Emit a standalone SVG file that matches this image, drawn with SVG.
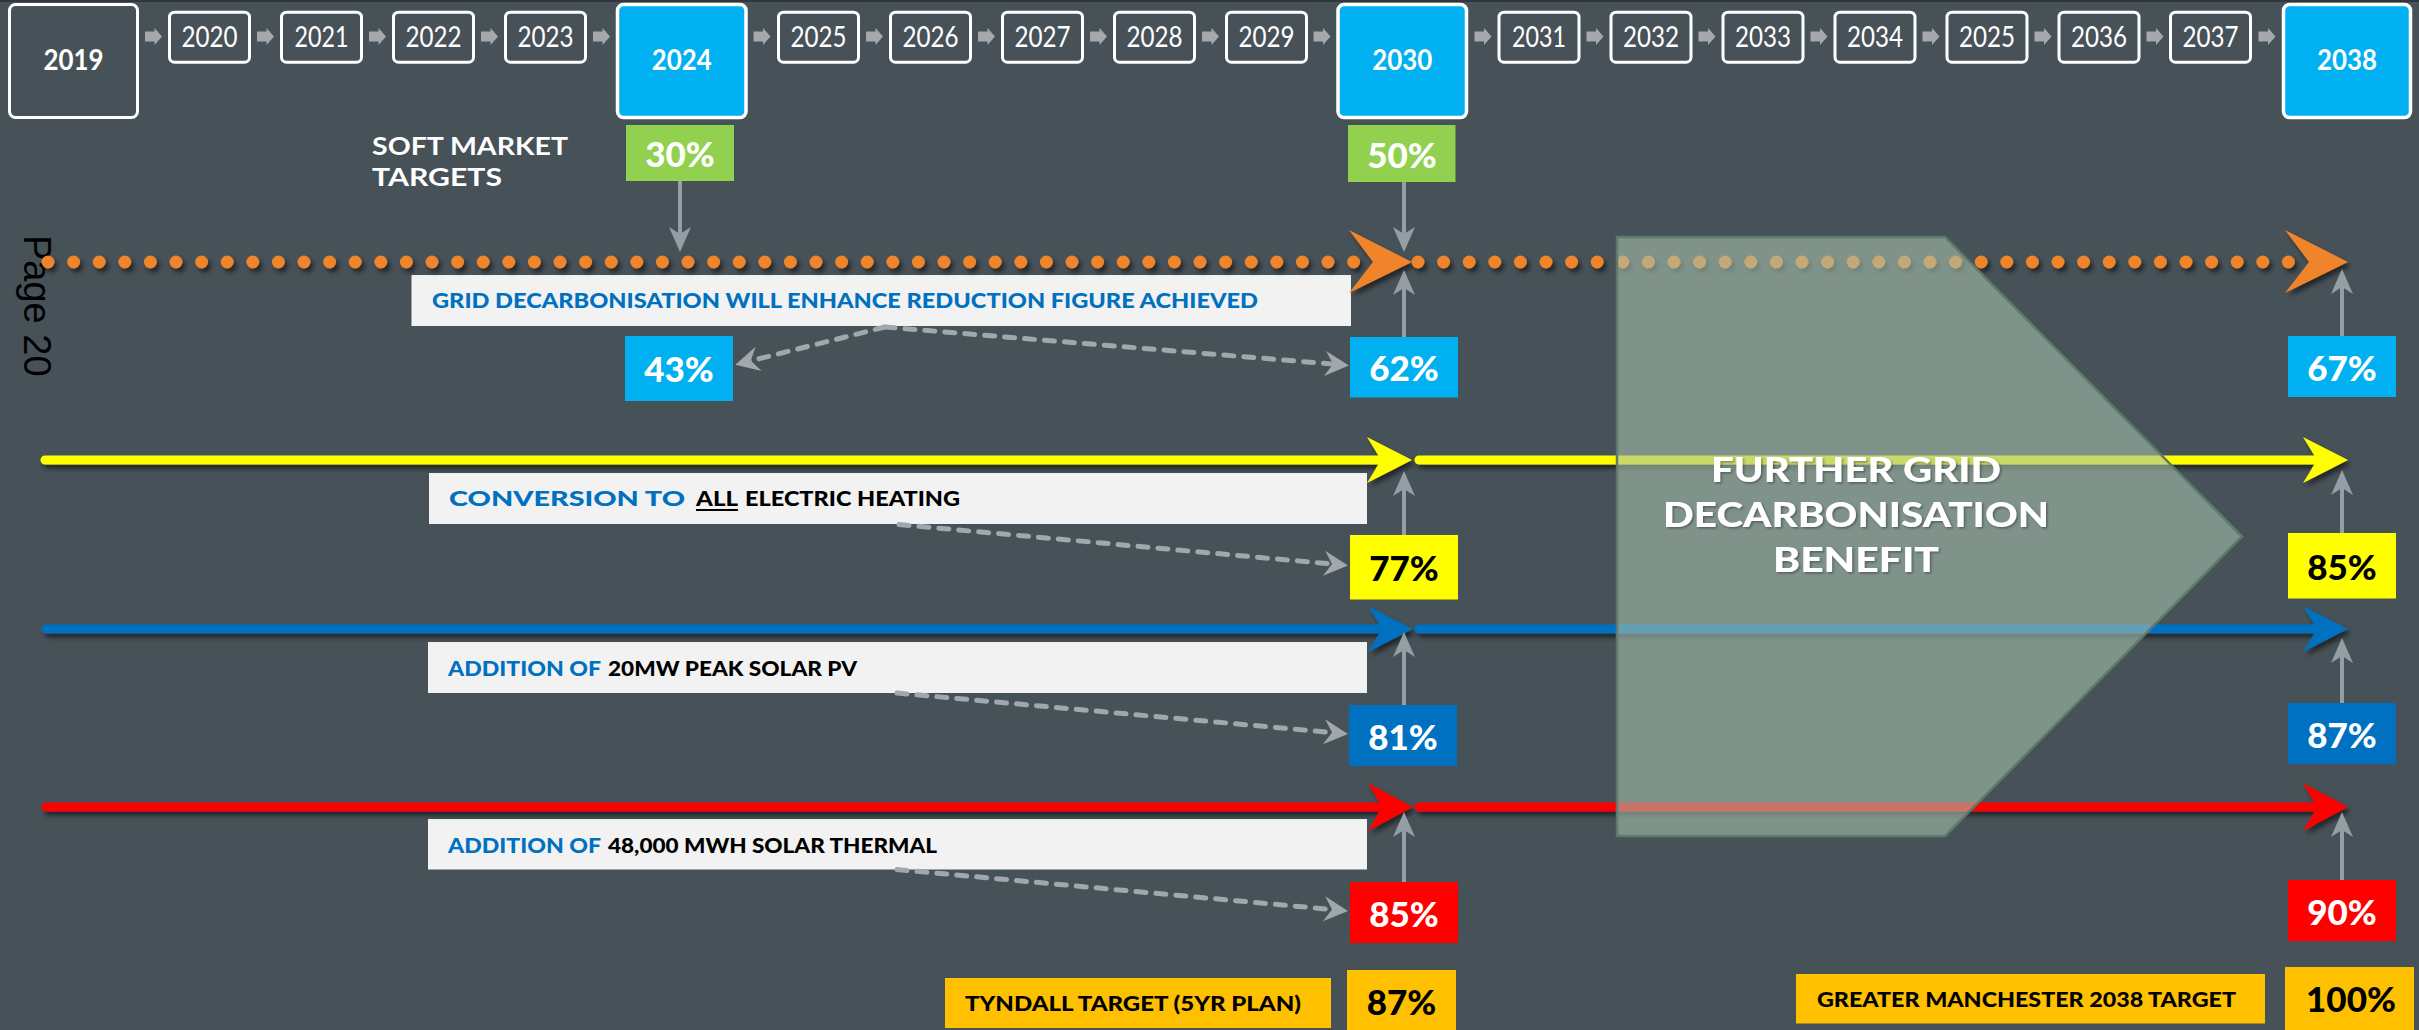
<svg xmlns="http://www.w3.org/2000/svg" xmlns:xlink="http://www.w3.org/1999/xlink" width="2419" height="1030" viewBox="0 0 2419 1030">
  <defs>
    <style>
      .t { font-family: Lato, "Open Sans", "Liberation Sans", sans-serif; }
      .yr { fill: none; stroke: #ffffff; stroke-width: 3; }
      .yrs { fill: #475258; stroke: #ffffff; stroke-width: 3; }
      .yrb { fill: #00b0f0; stroke: #ffffff; stroke-width: 3.5; }
      .ytxt { font-family: Lato, "Open Sans", "Liberation Sans", sans-serif; font-size: 28px; fill: #ffffff; text-anchor: middle; }
      .ybig { font-family: Lato, "Open Sans", "Liberation Sans", sans-serif; font-size: 28px; font-weight: 700; fill: #ffffff; text-anchor: middle; }
      .pct { font-family: Lato, "Open Sans", "Liberation Sans", sans-serif; font-size: 35px; font-weight: 900; text-anchor: middle; }
      .lbl { fill: #f2f2f2; }
      .ltxt { font-family: Lato, "Open Sans", "Liberation Sans", sans-serif; font-size: 20.5px; font-weight: 900; }
      .blue { fill: #0070c0; }
      .blk { fill: #000000; }
      .gry { stroke: #959da5; stroke-width: 4; fill: none; }
      .dsh { stroke: #a0a7ad; stroke-width: 5; fill: none; stroke-dasharray: 10 10; stroke-linecap: round; }
      .ln { fill: none; stroke-width: 9; stroke-linecap: round; }
    </style>
    <filter id="sh" x="-5%" y="-50%" width="110%" height="200%">
      <feDropShadow dx="3" dy="4" stdDeviation="2.5" flood-color="#000000" flood-opacity="0.55"/>
    </filter>
    <filter id="tsh" x="-5%" y="-20%" width="110%" height="140%">
      <feDropShadow dx="1.5" dy="1.5" stdDeviation="1" flood-color="#000000" flood-opacity="0.35"/>
    </filter>
    <path id="ar" d="M-8.5,-5 H1 V-8.5 L8.5,0 L1,8.5 V5 H-8.5 Z" fill="#a6a9ac"/>
    <marker id="head" viewBox="-13 -12 26 24" refX="0" refY="0" markerWidth="26" markerHeight="24" markerUnits="userSpaceOnUse" orient="auto">
      <path d="M12,0 L-13,-11 L-6,0 L-13,11 Z" fill="#959da5"/>
    </marker>
    <marker id="dhead" viewBox="-13 -13 26 26" refX="0" refY="0" markerWidth="26" markerHeight="26" markerUnits="userSpaceOnUse" orient="auto">
      <path d="M11,0 L-13,-12.5 L-5,0 L-13,12.5 Z" fill="#a0a7ad"/>
    </marker>
  </defs>

  <!-- backdrop -->
  <rect x="0" y="0" width="2419" height="1030" fill="#475258"/>
  <rect x="0" y="0" width="2419" height="2" fill="#30373c"/>

  <!-- page number -->
  <text x="0" y="0" transform="translate(24,235) rotate(90)" font-family="'Liberation Sans', Arial, sans-serif" font-size="38" fill="#000000">Page 20</text>

  <!-- timeline of years -->
  <g id="years">
    <g id="y2019"><rect class="yrs" x="9.5" y="4.5" width="128" height="113" rx="6"/><text class="ybig" x="73.5" y="70" textLength="60" lengthAdjust="spacingAndGlyphs">2019</text></g>
    <g id="y2020"><rect class="yr" x="169.5" y="12.2" width="80" height="50" rx="5"/><text class="ytxt" x="209.5" y="47" textLength="56" lengthAdjust="spacingAndGlyphs">2020</text></g>
    <g id="y2021"><rect class="yr" x="281.5" y="12.2" width="80" height="50" rx="5"/><text class="ytxt" x="321.5" y="47" textLength="54" lengthAdjust="spacingAndGlyphs">2021</text></g>
    <g id="y2022"><rect class="yr" x="393.5" y="12.2" width="80" height="50" rx="5"/><text class="ytxt" x="433.5" y="47" textLength="56" lengthAdjust="spacingAndGlyphs">2022</text></g>
    <g id="y2023"><rect class="yr" x="505.5" y="12.2" width="80" height="50" rx="5"/><text class="ytxt" x="545.5" y="47" textLength="56" lengthAdjust="spacingAndGlyphs">2023</text></g>
    <g id="y2024"><rect class="yrb" x="617.5" y="4.5" width="128.5" height="113" rx="6"/><text class="ybig" x="681.7" y="70" textLength="60" lengthAdjust="spacingAndGlyphs">2024</text></g>
    <g id="y2025"><rect class="yr" x="778.5" y="12.2" width="80" height="50" rx="5"/><text class="ytxt" x="818.5" y="47" textLength="56" lengthAdjust="spacingAndGlyphs">2025</text></g>
    <g id="y2026"><rect class="yr" x="890.5" y="12.2" width="80" height="50" rx="5"/><text class="ytxt" x="930.5" y="47" textLength="56" lengthAdjust="spacingAndGlyphs">2026</text></g>
    <g id="y2027"><rect class="yr" x="1002.5" y="12.2" width="80" height="50" rx="5"/><text class="ytxt" x="1042.5" y="47" textLength="56" lengthAdjust="spacingAndGlyphs">2027</text></g>
    <g id="y2028"><rect class="yr" x="1114.5" y="12.2" width="80" height="50" rx="5"/><text class="ytxt" x="1154.5" y="47" textLength="56" lengthAdjust="spacingAndGlyphs">2028</text></g>
    <g id="y2029"><rect class="yr" x="1226.5" y="12.2" width="80" height="50" rx="5"/><text class="ytxt" x="1266.5" y="47" textLength="56" lengthAdjust="spacingAndGlyphs">2029</text></g>
    <g id="y2030"><rect class="yrb" x="1338" y="4.5" width="128.5" height="113" rx="6"/><text class="ybig" x="1402.2" y="70" textLength="60" lengthAdjust="spacingAndGlyphs">2030</text></g>
    <g id="y2031"><rect class="yr" x="1499" y="12.2" width="80" height="50" rx="5"/><text class="ytxt" x="1539" y="47" textLength="54" lengthAdjust="spacingAndGlyphs">2031</text></g>
    <g id="y2032"><rect class="yr" x="1611" y="12.2" width="80" height="50" rx="5"/><text class="ytxt" x="1651" y="47" textLength="56" lengthAdjust="spacingAndGlyphs">2032</text></g>
    <g id="y2033"><rect class="yr" x="1723" y="12.2" width="80" height="50" rx="5"/><text class="ytxt" x="1763" y="47" textLength="56" lengthAdjust="spacingAndGlyphs">2033</text></g>
    <g id="y2034"><rect class="yr" x="1835" y="12.2" width="80" height="50" rx="5"/><text class="ytxt" x="1875" y="47" textLength="56" lengthAdjust="spacingAndGlyphs">2034</text></g>
    <g id="y2035"><rect class="yr" x="1947" y="12.2" width="80" height="50" rx="5"/><text class="ytxt" x="1987" y="47" textLength="56" lengthAdjust="spacingAndGlyphs">2025</text></g>
    <g id="y2036"><rect class="yr" x="2059" y="12.2" width="80" height="50" rx="5"/><text class="ytxt" x="2099" y="47" textLength="56" lengthAdjust="spacingAndGlyphs">2036</text></g>
    <g id="y2037"><rect class="yr" x="2170.5" y="12.2" width="80" height="50" rx="5"/><text class="ytxt" x="2210.5" y="47" textLength="56" lengthAdjust="spacingAndGlyphs">2037</text></g>
    <g id="y2038"><rect class="yrb" x="2283.5" y="4.5" width="127" height="113" rx="6"/><text class="ybig" x="2347" y="70" textLength="60" lengthAdjust="spacingAndGlyphs">2038</text></g>
  </g>

  <!-- soft market heading -->
  <g id="soft-market">
    <text class="t" x="372" y="155" font-size="25" font-weight="700" fill="#ffffff" textLength="196" lengthAdjust="spacingAndGlyphs">SOFT MARKET</text>
    <text class="t" x="372" y="186" font-size="25" font-weight="700" fill="#ffffff" textLength="130" lengthAdjust="spacingAndGlyphs">TARGETS</text>
  </g>

  <!-- description panels -->
  <g id="lbl-grid">
    <rect class="lbl" x="411.5" y="275" width="939.5" height="51"/>
    <text class="ltxt blue" x="432" y="307.5" font-size="18.5" textLength="826" lengthAdjust="spacingAndGlyphs">GRID DECARBONISATION WILL ENHANCE REDUCTION FIGURE ACHIEVED</text>
  </g>
  <g id="lbl-heating">
    <rect class="lbl" x="429" y="473" width="938" height="51"/>
    <text class="ltxt blue" x="449" y="506" font-size="22.5" textLength="236" lengthAdjust="spacingAndGlyphs">CONVERSION TO</text>
    <text class="ltxt blk" x="696" y="506" font-size="22.5" textLength="42" lengthAdjust="spacingAndGlyphs">ALL</text>
    <rect x="696" y="509" width="42" height="2" fill="#000000"/>
    <text class="ltxt blk" x="745" y="506" font-size="22.5" textLength="215" lengthAdjust="spacingAndGlyphs">ELECTRIC HEATING</text>
  </g>
  <g id="lbl-pv">
    <rect class="lbl" x="428" y="642" width="939" height="51"/>
    <text class="ltxt blue" x="448" y="676" textLength="153" lengthAdjust="spacingAndGlyphs">ADDITION OF</text>
    <text class="ltxt blk" x="608" y="676" textLength="249" lengthAdjust="spacingAndGlyphs">20MW PEAK SOLAR PV</text>
  </g>
  <g id="lbl-thermal">
    <rect class="lbl" x="428" y="819" width="939" height="50.5"/>
    <text class="ltxt blue" x="448" y="853" textLength="153" lengthAdjust="spacingAndGlyphs">ADDITION OF</text>
    <text class="ltxt blk" x="608" y="853" textLength="329" lengthAdjust="spacingAndGlyphs">48,000 MWH SOLAR THERMAL</text>
  </g>

  <!-- pathway lines -->
  <g id="connectors">
    <g filter="url(#sh)">
      <path d="M48,262 H1360" fill="none" stroke="#ef8429" stroke-width="13" stroke-linecap="round" stroke-dasharray="0 25.6"/>
      <path d="M1418,262 H2292" fill="none" stroke="#ef8429" stroke-width="13" stroke-linecap="round" stroke-dasharray="0 25.6"/>
      <path class="ln" d="M45,460 H1385 M1419,460 H2320" stroke="#ffff00"/>
      <path class="ln" d="M46,629 H1385 M1419,629 H2320" stroke="#0070c0"/>
      <path class="ln" d="M46,807 H1385 M1419,807 H2320" stroke="#ff0000"/>
      <polygon points="1349,230 1412,262 1349,293 1373,262" fill="#ef8429"/>
      <polygon points="2285,230 2348,262 2285,293 2309,262" fill="#ef8429"/>
      <polygon points="1367,437 1412,460 1367,483 1381,460" fill="#ffff00"/>
      <polygon points="2303,437 2348,460 2303,483 2317,460" fill="#ffff00"/>
      <polygon points="1368,606 1413,629 1368,652 1382,629" fill="#0070c0"/>
      <polygon points="2303,606 2348,629 2303,652 2317,629" fill="#0070c0"/>
      <polygon points="1368,783 1413,807 1368,831 1382,807" fill="#ff0000"/>
      <polygon points="2303,783 2348,807 2303,831 2317,807" fill="#ff0000"/>
    </g>

    <!-- dashed pointers from the panels -->
    <path class="dsh" d="M885,327 L746,362" marker-end="url(#dhead)"/>
    <path class="dsh" d="M885,327 L1338,364.5" marker-end="url(#dhead)"/>
    <path class="dsh" d="M899,524.5 L1337,564.5" marker-end="url(#dhead)"/>
    <path class="dsh" d="M897,693 L1337,733" marker-end="url(#dhead)"/>
    <path class="dsh" d="M897,869.5 L1337,910" marker-end="url(#dhead)"/>

    <!-- year arrows -->
    <use href="#ar" x="153.5" y="36.5"/>
    <use href="#ar" x="265.5" y="36.5"/>
    <use href="#ar" x="377.5" y="36.5"/>
    <use href="#ar" x="489.5" y="36.5"/>
    <use href="#ar" x="601.5" y="36.5"/>
    <use href="#ar" x="762" y="36.5"/>
    <use href="#ar" x="874.5" y="36.5"/>
    <use href="#ar" x="986.5" y="36.5"/>
    <use href="#ar" x="1098.5" y="36.5"/>
    <use href="#ar" x="1210.5" y="36.5"/>
    <use href="#ar" x="1322" y="36.5"/>
    <use href="#ar" x="1483" y="36.5"/>
    <use href="#ar" x="1595" y="36.5"/>
    <use href="#ar" x="1707" y="36.5"/>
    <use href="#ar" x="1819" y="36.5"/>
    <use href="#ar" x="1931" y="36.5"/>
    <use href="#ar" x="2043" y="36.5"/>
    <use href="#ar" x="2155" y="36.5"/>
    <use href="#ar" x="2267" y="36.5"/>
  </g>

  <!-- translucent benefit chevron -->
  <g id="benefit">
    <polygon points="1617,237 1945,237 2242,536.5 1945,836 1617,836" fill="#a6bfae" fill-opacity="0.6" stroke="#5d7a6b" stroke-width="2.5"/>
    <g filter="url(#tsh)" class="t" font-size="35" font-weight="900" fill="#ffffff" text-anchor="middle">
      <text x="1856" y="482" textLength="290" lengthAdjust="spacingAndGlyphs">FURTHER GRID</text>
      <text x="1856" y="527" textLength="386" lengthAdjust="spacingAndGlyphs">DECARBONISATION</text>
      <text x="1856" y="572" textLength="166" lengthAdjust="spacingAndGlyphs">BENEFIT</text>
    </g>
  </g>

  <!-- percentage markers -->
  <g id="p30"><rect x="626" y="125" width="108" height="56" fill="#92d050"/><text class="pct" x="680" y="167" fill="#ffffff">30%</text></g>
  <g id="p50"><rect x="1348" y="125" width="107.5" height="57" fill="#92d050"/><text class="pct" x="1402" y="167.5" fill="#ffffff">50%</text></g>
  <g id="p43"><rect x="625" y="336" width="108" height="65" fill="#00b0f0"/><text class="pct" x="679" y="382" fill="#ffffff">43%</text></g>
  <g id="p62"><rect x="1350" y="337" width="108" height="60.5" fill="#00b0f0"/><text class="pct" x="1404" y="381" fill="#ffffff">62%</text></g>
  <g id="p67"><rect x="2288" y="336" width="108" height="61" fill="#00b0f0"/><text class="pct" x="2342" y="380.5" fill="#ffffff">67%</text></g>
  <g id="p77"><rect x="1350" y="535" width="108" height="64.5" fill="#ffff00"/><text class="pct" x="1404" y="581" fill="#000000">77%</text></g>
  <g id="p85y"><rect x="2288" y="533" width="108" height="65.5" fill="#ffff00"/><text class="pct" x="2342" y="580" fill="#000000">85%</text></g>
  <g id="p81"><rect x="1349" y="705" width="108" height="61" fill="#0070c0"/><text class="pct" x="1403" y="749.5" fill="#ffffff">81%</text></g>
  <g id="p87b"><rect x="2288" y="703" width="108" height="61" fill="#0070c0"/><text class="pct" x="2342" y="747.5" fill="#ffffff">87%</text></g>
  <g id="p85r"><rect x="1350" y="882" width="108" height="61" fill="#ff0000"/><text class="pct" x="1404" y="926.5" fill="#ffffff">85%</text></g>
  <g id="p90"><rect x="2288" y="880" width="108" height="61" fill="#ff0000"/><text class="pct" x="2342" y="924.5" fill="#ffffff">90%</text></g>

  <!-- targets -->
  <g id="tyndall">
    <rect x="945" y="978" width="386" height="50" fill="#ffc000"/>
    <text class="t" x="965" y="1011" font-size="20.5" font-weight="900" fill="#000000" textLength="336" lengthAdjust="spacingAndGlyphs">TYNDALL TARGET (5YR PLAN)</text>
  </g>
  <g id="p87t"><rect x="1347" y="970" width="109" height="62" fill="#ffc000"/><text class="pct" x="1401.5" y="1015" fill="#000000">87%</text></g>
  <g id="gm-target">
    <rect x="1796" y="974" width="469" height="49.5" fill="#ffc000"/>
    <text class="t" x="1817" y="1007" font-size="20.5" font-weight="900" fill="#000000" textLength="419" lengthAdjust="spacingAndGlyphs">GREATER MANCHESTER 2038 TARGET</text>
  </g>
  <g id="p100"><rect x="2285" y="967" width="129" height="65" fill="#ffc000"/><text class="pct" x="2351" y="1012" fill="#000000">100%</text></g>

  <!-- grey pointers between markers and pathways -->
  <g id="pointers">
    <path class="gry" d="M680,181 V240" marker-end="url(#head)"/>
    <path class="gry" d="M1404,182 V240" marker-end="url(#head)"/>
    <path class="gry" d="M1404,337 V282" marker-end="url(#head)"/>
    <path class="gry" d="M1404,535 V483" marker-end="url(#head)"/>
    <path class="gry" d="M1404,705 V644" marker-end="url(#head)"/>
    <path class="gry" d="M1404,882 V824" marker-end="url(#head)"/>
    <path class="gry" d="M2342,336 V281" marker-end="url(#head)"/>
    <path class="gry" d="M2342,533 V482" marker-end="url(#head)"/>
    <path class="gry" d="M2342,703 V650" marker-end="url(#head)"/>
    <path class="gry" d="M2342,880 V824" marker-end="url(#head)"/>
  </g>
</svg>
